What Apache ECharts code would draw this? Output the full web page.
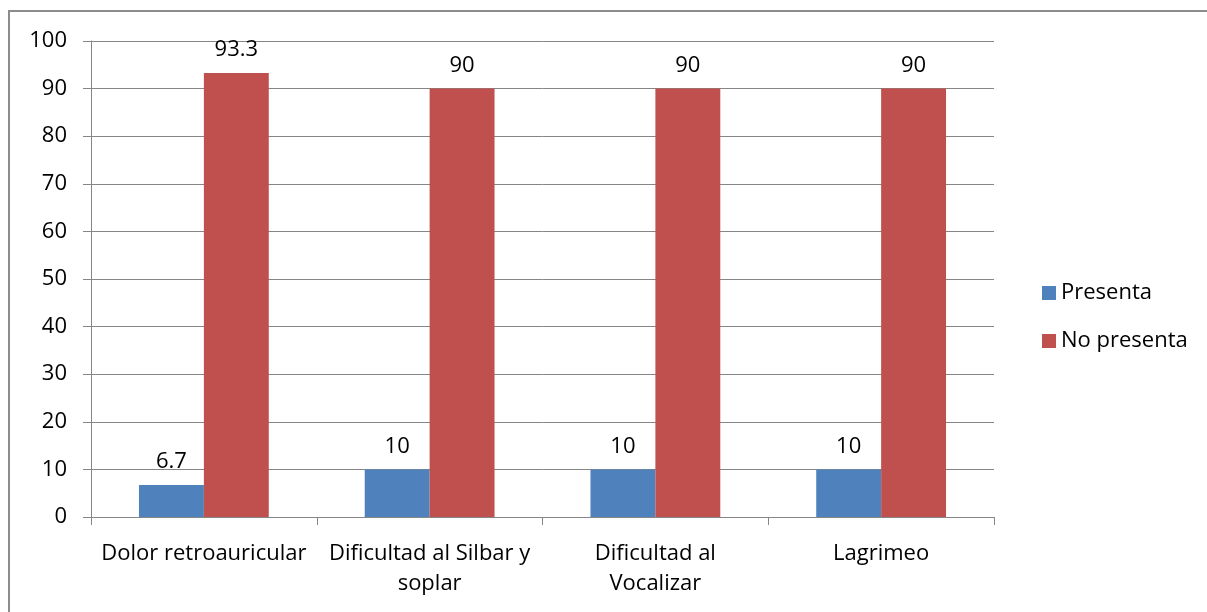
<!DOCTYPE html>
<html><head><meta charset="utf-8">
<script src="https://cdn.jsdelivr.net/npm/echarts@6/dist/echarts.min.js"></script>
<style>html,body{margin:0;padding:0;background:#fff}#c{width:1207px;height:612px}</style>
</head><body><div id="c"></div>
<script>
const categories = ['Dolor retroauricular', 'Dificultad al Silbar y\nsoplar', 'Dificultad al\nVocalizar', 'Lagrimeo'];
const presenta = [6.7, 10, 10, 10];
const noPresenta = [93.3, 90, 90, 90];
const seriesNames = ['Presenta', 'No presenta'];

const font = 'Open Sans, Liberation Sans, Arial, sans-serif';
const fs = 22;
const chart = echarts.init(document.getElementById('c'));
chart.setOption({
  animation: false,
  graphic: [
    {type:'line', shape:{x1:9,y1:10,x2:9,y2:620}, style:{stroke:'#8c8c8c', lineWidth:2}},
    {type:'line', shape:{x1:8,y1:11,x2:1220,y2:11}, style:{stroke:'#8c8c8c', lineWidth:2}}
  ],
  grid: {left: 91, right: 213, top: 41, bottom: 95, containLabel: false},
  legend: {
    orient: 'vertical', left: 1037, top: 277, itemWidth: 14, itemHeight: 14, itemGap: 26,
    icon: 'rect',
    textStyle: {fontFamily: font, fontSize: fs, color: '#000'},
    data: seriesNames
  },
  xAxis: {
    type: 'category', data: categories,
    axisLine: {lineStyle: {color: '#868686'}},
    axisTick: {show: true, length: 8, lineStyle: {color: '#868686'}},
    axisLabel: {fontFamily: font, fontSize: fs, color: '#000', margin: 22, lineHeight: 30, interval: 0}
  },
  yAxis: {
    type: 'value', min: 0, max: 100, interval: 10,
    axisLine: {show: true, lineStyle: {color: '#868686'}},
    axisTick: {show: true, length: 8, lineStyle: {color: '#868686'}},
    splitLine: {lineStyle: {color: '#868686'}},
    axisLabel: {fontFamily: font, fontSize: fs, color: '#000', margin: 24}
  },
  series: [
    {name: seriesNames[0], type: 'bar', data: presenta, barGap: '0%', barCategoryGap: '42.5%',
     itemStyle: {color: '#4F81BD'},
     label: {show: true, position: 'top', distance: 12, fontFamily: font, fontSize: fs, color: '#000'}},
    {name: seriesNames[1], type: 'bar', data: noPresenta, barGap: '0%', barCategoryGap: '42.5%',
     itemStyle: {color: '#C0504D'},
     label: {show: true, position: 'top', distance: 12, fontFamily: font, fontSize: fs, color: '#000'}}
  ]
});
</script></body></html>
